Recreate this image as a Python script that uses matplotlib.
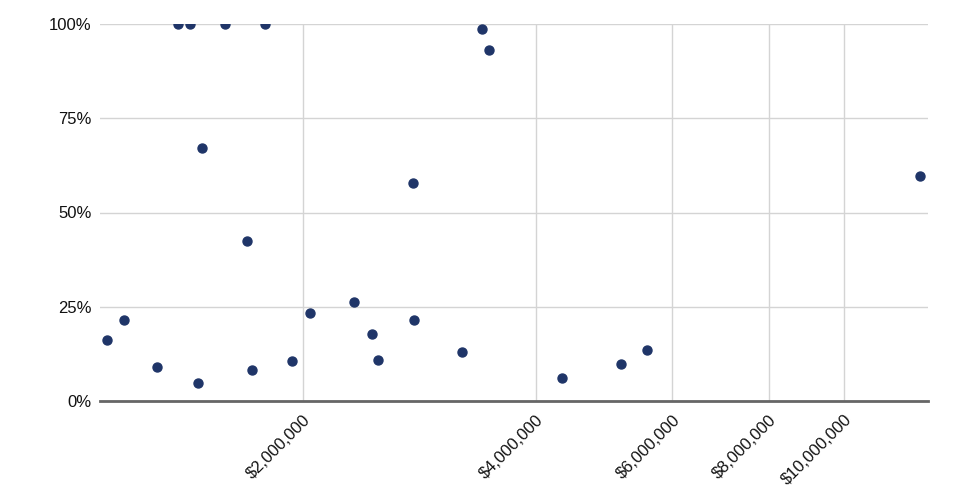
import numpy as np
import matplotlib.pyplot as plt
from matplotlib.ticker import FixedLocator, FuncFormatter, NullLocator

plt.rcParams['font.family'] = ['Liberation Sans', 'DejaVu Sans']

# budget (x) vs share (y)
budget = [1.116e6, 1.174e6, 1.295e6, 1.379e6, 1.429e6, 1.463e6, 1.481e6,
          1.586e6, 1.693e6, 1.719e6, 1.786e6, 1.936e6, 2.042e6, 2.328e6,
          2.455e6, 2.500e6, 2.775e6, 2.782e6, 3.210e6, 3.407e6, 3.479e6,
          4.322e6, 5.152e6, 5.566e6, 12.54e6]
share = [0.162, 0.215, 0.090, 1.0, 1.0, 0.048, 0.671,
         1.0, 0.424, 0.082, 1.0, 0.106, 0.233, 0.263,
         0.178, 0.109, 0.578, 0.215, 0.130, 0.987, 0.931,
         0.061, 0.098, 0.135, 0.597]

x_ticks = [2e6, 4e6, 6e6, 8e6, 10e6]
y_ticks = [0, 0.25, 0.5, 0.75, 1.0]

fig = plt.figure(figsize=(9.6, 5.04), dpi=100)
ax = fig.add_axes([100 / 960, 1 - 401 / 504, 828 / 960, 377 / 504])

ax.scatter(budget, share, s=42, color="#1f3568", zorder=3, clip_on=True)

ax.set_xscale("log")
ax.set_xlim(1.0933e6, 12.84e6)
ax.set_ylim(0, 1)

ax.xaxis.set_major_locator(FixedLocator(x_ticks))
ax.xaxis.set_minor_locator(NullLocator())
ax.xaxis.set_major_formatter(FuncFormatter(lambda v, p: f"${v:,.0f}"))
ax.yaxis.set_major_locator(FixedLocator(y_ticks))
ax.yaxis.set_major_formatter(FuncFormatter(lambda v, p: f"{v:.0%}"))

ax.grid(True, color="#d4d4d4", linewidth=1)
ax.set_axisbelow(True)
for side in ["top", "right", "left"]:
    ax.spines[side].set_visible(False)
ax.spines["bottom"].set_color("#666666")
ax.spines["bottom"].set_linewidth(2)
ax.spines["bottom"].set_zorder(2)

ax.tick_params(axis="both", length=0, labelsize=12, colors="#111111")
ax.tick_params(axis="y", pad=6)
ax.tick_params(axis="x", pad=8)
for lbl in ax.get_xticklabels():
    lbl.set_rotation(45)
    lbl.set_ha("right")
    lbl.set_va("top")
    lbl.set_rotation_mode("anchor")

fig.savefig("out.png", dpi=100, facecolor="white")
